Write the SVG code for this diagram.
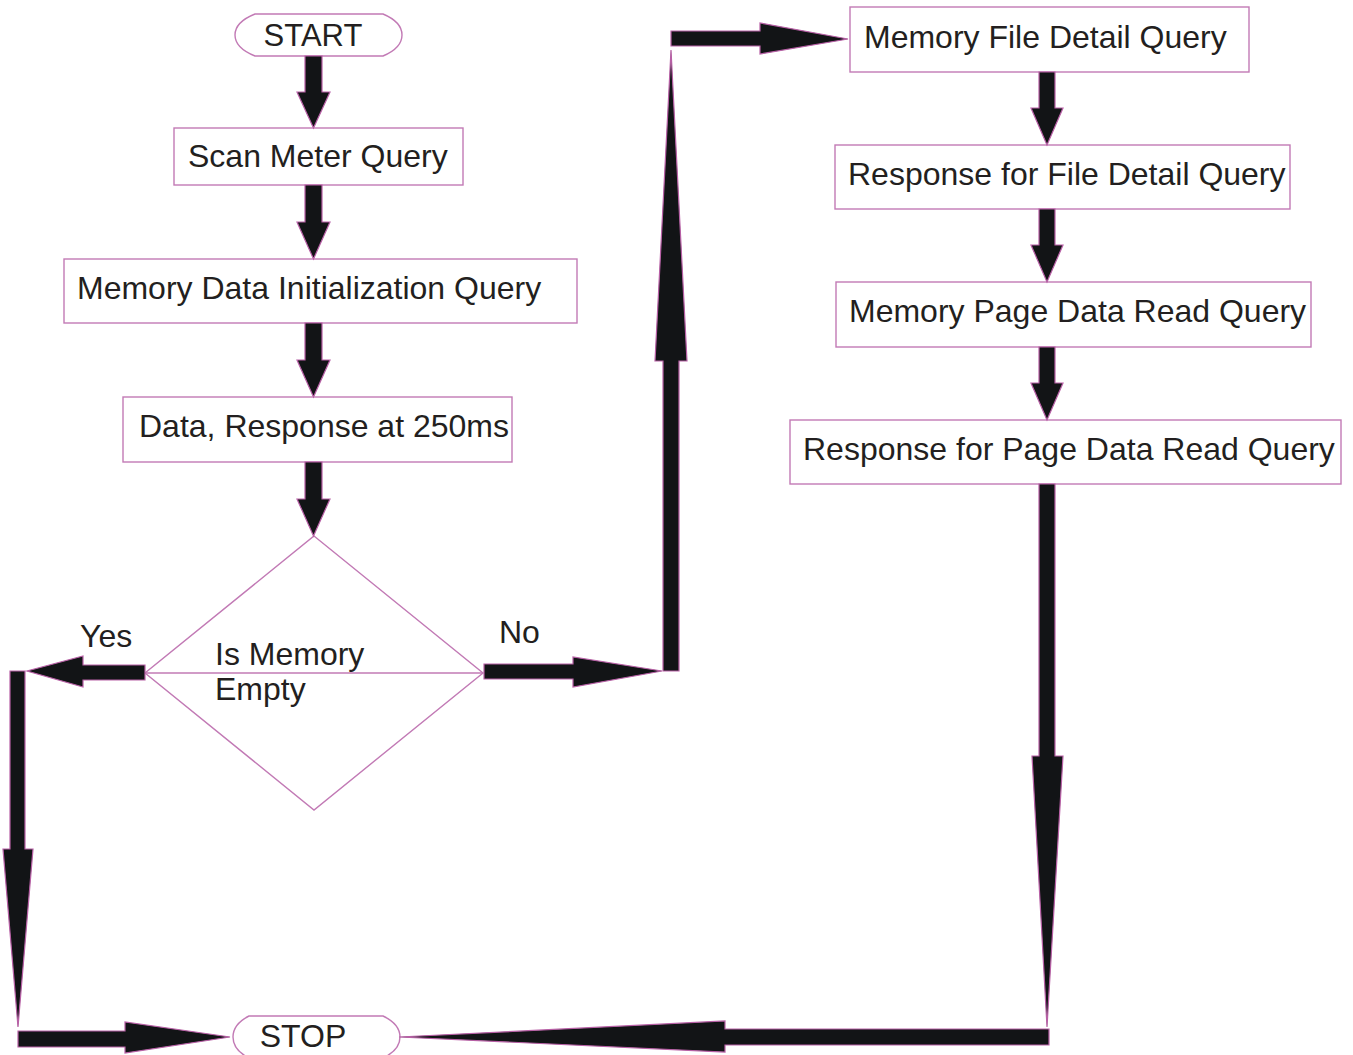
<svg xmlns="http://www.w3.org/2000/svg" width="1353" height="1055" viewBox="0 0 1353 1055">
<style>
  .box { fill: #ffffff; stroke: #c27ab5; stroke-width: 1.4; }
  .arr { fill: #121416; stroke: #b860a6; stroke-width: 1.2; stroke-linejoin: miter; }
  .t { font-family: "Liberation Sans", Arial, sans-serif; font-size: 32px; fill: #231f20; }
</style>
<rect width="1353" height="1055" fill="#ffffff"/>

<g id="start">
  <path class="box" d="M255,14 L383,14 Q402,22 402,35 Q402,48 383,56 L255,56 Q235,48 235,35 Q235,22 255,14 Z"/>
  <text class="t" x="313" y="46" text-anchor="middle" style="font-size:31px">START</text>
</g>
<g id="scan">
  <rect class="box" x="174" y="128" width="289" height="57"/>
  <text class="t" x="188" y="167">Scan Meter Query</text>
</g>
<g id="meminit">
  <rect class="box" x="64" y="259" width="513" height="64"/>
  <text class="t" x="77" y="299">Memory Data Initialization Query</text>
</g>
<g id="data">
  <rect class="box" x="123" y="397" width="389" height="65"/>
  <text class="t" x="139" y="437">Data, Response at 250ms</text>
</g>
<g id="decision">
  <polygon class="box" points="314,536 483,673 314,810 145,673"/>
  <line x1="145" y1="673" x2="483" y2="673" stroke="#c27ab5" stroke-width="1.4"/>
  <text class="t" x="215" y="665">Is Memory</text>
  <text class="t" x="215" y="700">Empty</text>
</g>
<g id="filedetail">
  <rect class="box" x="850" y="7" width="399" height="65"/>
  <text class="t" x="864" y="48">Memory File Detail Query</text>
</g>
<g id="respfile">
  <rect class="box" x="835" y="145" width="455" height="64"/>
  <text class="t" x="848" y="185">Response for File Detail Query</text>
</g>
<g id="pageread">
  <rect class="box" x="836" y="282" width="475" height="65"/>
  <text class="t" x="849" y="322">Memory Page Data Read Query</text>
</g>
<g id="resppage">
  <rect class="box" x="790" y="420" width="551" height="64"/>
  <text class="t" x="803" y="460">Response for Page Data Read Query</text>
</g>
<g id="stop">
  <path class="box" d="M249,1016 L383,1016 Q400,1024 400,1037 Q400,1050 383,1058 L249,1058 Q233,1050 233,1037 Q233,1024 249,1016 Z"/>
  <text class="t" x="303" y="1047" text-anchor="middle">STOP</text>
</g>

<g id="connectors">
  <polygon class="arr" points="305,56 322,56 322,92 330,92 313.5,128 297,92 305,92"/>
  <polygon class="arr" points="305,185 322,185 322,222 330,222 313.5,259 297,222 305,222"/>
  <polygon class="arr" points="305,323 322,323 322,360 330,360 313.5,397 297,360 305,360"/>
  <polygon class="arr" points="305,462 322,462 322,499 330,499 313.5,536 297,499 305,499"/>

  <polygon class="arr" points="1039,72 1055,72 1055,108 1063,108 1047,145 1031,108 1039,108"/>
  <polygon class="arr" points="1039,209 1055,209 1055,245 1063,245 1047,282 1031,245 1039,245"/>
  <polygon class="arr" points="1039,347 1055,347 1055,383 1063,383 1047,420 1031,383 1039,383"/>
  <polygon class="arr" points="1039,484 1055,484 1055,756 1063,756 1047,1027 1032,756 1039,756"/>

  <polygon class="arr" points="145,665 83,665 83,656 27,671 83,687 83,680 145,680"/>
  <polygon class="arr" points="10,671 25,671 25,849 33,849 18,1027 3,849 10,849"/>
  <polygon class="arr" points="18,1031 125,1031 125,1022 230,1037 125,1053 125,1047 18,1047"/>

  <polygon class="arr" points="484,664 573,664 573,657 662,671 573,687 573,679 484,679"/>
  <polygon class="arr" points="663,671 679,671 679,361 687,361 671,50 655,361 663,361"/>
  <polygon class="arr" points="671,31 760,31 760,23 848,39 760,54 760,46 671,46"/>

  <polygon class="arr" points="1049,1029 1049,1045 725,1045 725,1052 399,1037 725,1021 725,1029"/>

  <text class="t" x="80" y="647">Yes</text>
  <text class="t" x="499" y="643">No</text>
</g>
</svg>
